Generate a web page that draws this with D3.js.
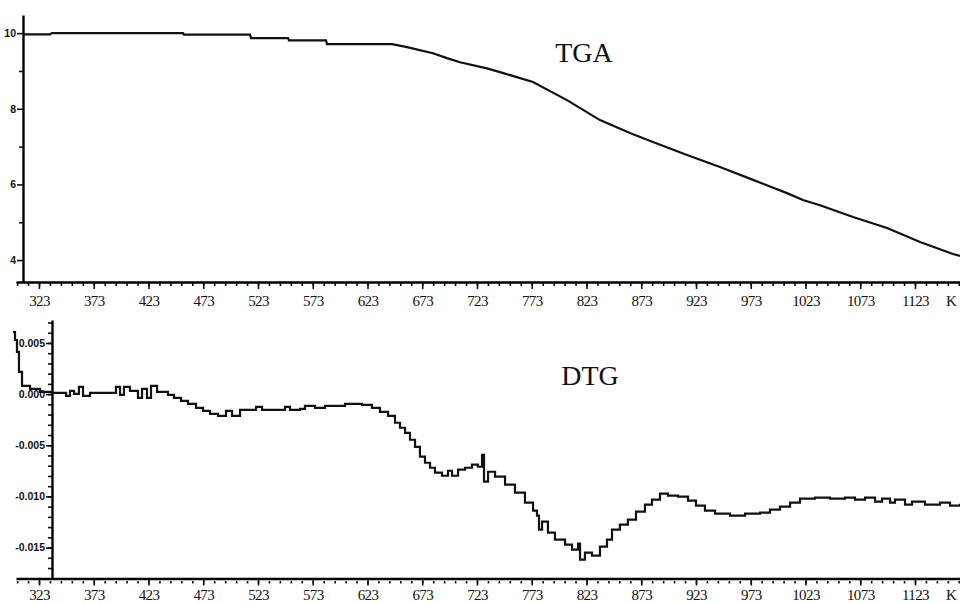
<!DOCTYPE html>
<html>
<head>
<meta charset="utf-8">
<script src="https://cdn.jsdelivr.net/npm/d3@7"></script>
<style>
  html, body { margin: 0; padding: 0; background: #fff; }
  svg { display: block; }
</style>
</head>
<body>
<div id="chart"></div>
<script>
// Temperature axis labels (K), shared by both panels
const xTicks = [323, 373, 423, 473, 523, 573, 623, 673, 723, 773, 823, 873, 923, 973, 1023, 1073, 1123];
const xMinorTicks = d3.range(303, 1164, 10);

// TGA panel
const tgaTicks = [4, 6, 8, 10];
const tgaMinorTicks = [5, 7, 9];
const tgaT = [308.4, 333.0, 334.9, 454.5, 455.4, 515.7, 516.6, 550.4, 551.3, 585.1, 586.0, 645.4,
  659.1, 682.8, 695.6, 707.5, 732.1, 744.0, 774.1, 805.2, 835.3, 862.7, 883.7, 914.8, 944.9,
  975.1, 1006.1, 1020.7, 1036.3, 1066.4, 1097.5, 1127.6, 1157.7, 1164.1];
const tgaM = [9.97, 9.97, 10.0, 10.0, 9.96, 9.96, 9.87, 9.87, 9.81, 9.81, 9.71, 9.71,
  9.63, 9.47, 9.34, 9.23, 9.07, 8.97, 8.71, 8.23, 7.70, 7.36, 7.12, 6.78, 6.46,
  6.12, 5.77, 5.59, 5.45, 5.14, 4.85, 4.48, 4.16, 4.11];

// DTG panel
const dtgTicks = [0.005, 0, -0.005, -0.010, -0.015];
const dtgMinorTicks = d3.range(-17, 8).map(d => d / 1000);
const dtgT = [299.3, 301.1, 302.9, 304.7, 307.5, 314.8, 323.9, 334.9, 347.7, 351.3, 355.0, 359.5,
  363.2, 369.6, 389.7, 393.3, 397.0, 400.6, 406.1, 413.4, 417.1, 421.6, 425.3, 430.8, 440.8,
  446.3, 452.7, 459.1, 466.4, 472.8, 479.2, 486.5, 493.8, 499.3, 506.6, 517.5, 521.2, 526.7,
  543.1, 547.7, 552.2, 561.4, 565.9, 575.1, 584.2, 602.5, 618.0, 627.1, 634.4, 641.8, 648.1,
  652.7, 657.3, 661.8, 666.4, 670.9, 675.5, 680.1, 684.6, 691.0, 696.5, 700.2, 705.7, 712.1,
  718.4, 723.9, 727.6, 729.4, 733.1, 739.5, 748.6, 757.7, 766.8, 774.2, 777.8, 779.6, 782.4,
  787.8, 794.2, 803.4, 809.8, 815.3, 817.1, 821.6, 828.0, 835.3, 841.7, 846.3, 853.5, 860.8,
  868.2, 876.4, 882.8, 890.1, 897.4, 906.6, 915.7, 923.0, 931.2, 940.4, 954.1, 967.8, 981.5,
  990.6, 999.7, 1008.9, 1018.0, 1031.7, 1045.4, 1059.1, 1068.2, 1077.4, 1086.5, 1092.9,
  1100.2, 1104.7, 1113.9, 1120.3, 1132.1, 1145.8, 1155.0, 1164.1];
const dtgV = [0.00607, 0.00529, 0.00412, 0.00217, 0.00080, 0.00051, 0.00022, 0.00012, -0.00017,
  0.00032, 0.00002, 0.00071, -0.00017, 0.00012, 0.00012, 0.00071, -0.00007, 0.00071, 0.00032,
  -0.00037, 0.00051, -0.00037, 0.00080, 0.00022, -0.00007, -0.00037, -0.00066, -0.00095,
  -0.00134, -0.00163, -0.00193, -0.00212, -0.00163, -0.00212, -0.00154, -0.00154, -0.00124,
  -0.00154, -0.00154, -0.00124, -0.00154, -0.00144, -0.00115, -0.00134, -0.00115, -0.00095,
  -0.00105, -0.00134, -0.00173, -0.00212, -0.00280, -0.00329, -0.00378, -0.00446, -0.00515,
  -0.00612, -0.00671, -0.00720, -0.00768, -0.00798, -0.00749, -0.00798, -0.00739, -0.00720,
  -0.00690, -0.00710, -0.00593, -0.00856, -0.00759, -0.00807, -0.00885, -0.00963, -0.01061,
  -0.01139, -0.01188, -0.01324, -0.01246, -0.01354, -0.01422, -0.01471, -0.01520, -0.01461,
  -0.01617, -0.01549, -0.01578, -0.01490, -0.01422, -0.01324, -0.01276, -0.01227, -0.01149,
  -0.01080, -0.01032, -0.00973, -0.00993, -0.01002, -0.01041, -0.01090, -0.01139, -0.01168,
  -0.01188, -0.01168, -0.01159, -0.01129, -0.01100, -0.01061, -0.01022, -0.01012, -0.01022,
  -0.01012, -0.01032, -0.01012, -0.01051, -0.01022, -0.01061, -0.01032, -0.01080, -0.01051,
  -0.01080, -0.01061, -0.01090, -0.01071];

const width = 960, height = 603;

const svg = d3.select('#chart')
  .append('svg')
  .attr('width', width)
  .attr('height', height)
  .attr('viewBox', [0, 0, width, height]);

svg.append('rect').attr('width', width).attr('height', height).attr('fill', '#fff');

const x = d3.scaleLinear().domain([302, 1164.1]).range([16, 960]);

// Draw one panel: y axis, bottom axis, curve and title
function drawPanel(opts) {
  const g = svg.append('g');
  const y = d3.scaleLinear().domain(opts.yDomain).range([opts.bottom, opts.top]);

  // bottom axis: minor ticks, then major ticks with labels
  g.append('g')
    .attr('transform', `translate(0,${opts.bottom})`)
    .call(d3.axisBottom(x).tickValues(xMinorTicks).tickSize(opts.minorX).tickFormat(''))
    .call(a => a.select('.domain').remove())
    .call(a => a.selectAll('line').attr('stroke', '#111').attr('stroke-width', 1.6)
      .attr('y1', opts.minorGap));

  g.append('g')
    .attr('transform', `translate(0,${opts.bottom})`)
    .call(d3.axisBottom(x).tickValues(xTicks).tickSize(7).tickSizeOuter(0).tickFormat(d3.format('d')))
    .call(a => a.select('.domain').attr('stroke', '#000').attr('stroke-width', 2.4))
    .call(a => a.selectAll('line').attr('stroke', '#111').attr('stroke-width', 1.6))
    .call(a => a.selectAll('text')
      .attr('y', opts.labelY).attr('dy', 0)
      .attr('font-family', '"Liberation Serif", "DejaVu Serif", serif')
      .attr('font-size', 15).attr('letter-spacing', -0.6).attr('fill', '#111'));

  g.append('text')
    .attr('x', 946).attr('y', opts.bottom + opts.labelY)
    .attr('font-family', '"Liberation Serif", serif')
    .attr('font-size', 15).attr('fill', '#111')
    .text('K');

  // left axis
  g.append('g')
    .attr('transform', `translate(${opts.axisX},0)`)
    .call(d3.axisLeft(y).tickValues(opts.minorTicks).tickSize(4).tickFormat(''))
    .call(a => a.select('.domain').remove())
    .call(a => a.selectAll('line').attr('stroke', '#111').attr('stroke-width', 1.6));

  g.append('g')
    .attr('transform', `translate(${opts.axisX},0)`)
    .call(d3.axisLeft(y).tickValues(opts.ticks).tickSize(6).tickSizeOuter(0).tickFormat(opts.format))
    .call(a => a.select('.domain').attr('stroke', '#000').attr('stroke-width', 2.4))
    .call(a => a.selectAll('line').attr('stroke', '#111').attr('stroke-width', 1.6))
    .call(a => a.selectAll('text')
      .attr('x', -7)
      .attr('font-family', '"Liberation Sans", Arial, sans-serif')
      .attr('font-weight', 'bold')
      .attr('font-size', opts.tickFont).attr('fill', '#111'));

  // curve
  const line = d3.line()
    .x(d => x(d[0]))
    .y(d => y(d[1]))
    .curve(opts.curve);

  g.append('path')
    .datum(d3.zip(opts.xs, opts.ys))
    .attr('d', line)
    .attr('fill', 'none')
    .attr('stroke', '#111')
    .attr('stroke-width', 2.2)
    .attr('stroke-linejoin', 'miter');

  g.append('text')
    .attr('x', opts.titleX).attr('y', opts.titleY)
    .attr('text-anchor', 'middle')
    .attr('font-family', '"Liberation Serif", "DejaVu Serif", serif')
    .attr('font-size', 28).attr('fill', '#111')
    .text(opts.title);
}

drawPanel({
  top: 15, bottom: 282, axisX: 23,
  yDomain: [3.42, 10.48],
  ticks: tgaTicks, minorTicks: tgaMinorTicks,
  format: d3.format('d'), tickFont: 10.5,
  minorX: 4, minorGap: 0, labelY: 24,
  xs: tgaT, ys: tgaM, curve: d3.curveLinear,
  title: 'TGA', titleX: 584, titleY: 62
});

drawPanel({
  top: 320, bottom: 578.5, axisX: 52,
  yDomain: [-0.018024, 0.007244],
  ticks: dtgTicks, minorTicks: dtgMinorTicks,
  format: d => d.toFixed(3), tickFont: 10.5,
  minorX: 5, minorGap: 2.5, labelY: 21.5,
  xs: dtgT, ys: dtgV, curve: d3.curveStepAfter,
  title: 'DTG', titleX: 590, titleY: 385
});
</script>
</body>
</html>
